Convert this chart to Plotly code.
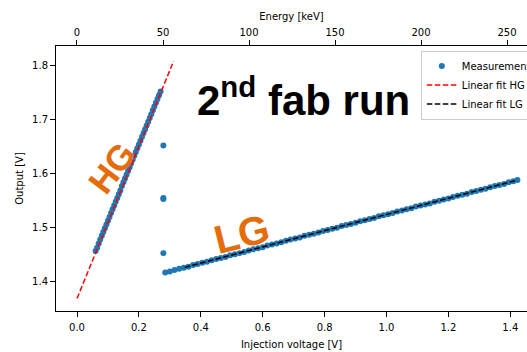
import plotly.graph_objects as go

# ---- data ----
hg_v = [0.060, 0.065, 0.070, 0.075, 0.080, 0.085, 0.090, 0.095, 0.100, 0.105,
        0.110, 0.115, 0.120, 0.125, 0.130, 0.135, 0.140, 0.145, 0.150, 0.155,
        0.160, 0.165, 0.170, 0.175, 0.180, 0.185, 0.190, 0.195, 0.200, 0.205,
        0.210, 0.215, 0.220, 0.225, 0.230, 0.235, 0.240, 0.245, 0.250, 0.255,
        0.260, 0.265, 0.270]
hg_out = [1.457, 1.463, 1.471, 1.478, 1.485, 1.492, 1.499, 1.506, 1.513, 1.520,
          1.527, 1.534, 1.541, 1.548, 1.555, 1.562, 1.569, 1.577, 1.584, 1.591,
          1.598, 1.605, 1.612, 1.619, 1.626, 1.633, 1.640, 1.647, 1.654, 1.661,
          1.668, 1.675, 1.682, 1.689, 1.696, 1.703, 1.710, 1.717, 1.724, 1.731,
          1.738, 1.745, 1.752]
trans_v = [0.279, 0.279, 0.279, 0.279]
trans_out = [1.652, 1.555, 1.553, 1.453]
lg_v = [0.285, 0.300, 0.315, 0.330, 0.345, 0.360, 0.375, 0.390, 0.405, 0.420,
        0.435, 0.450, 0.465, 0.480, 0.495, 0.510, 0.525, 0.540, 0.555, 0.570,
        0.585, 0.600, 0.615, 0.630, 0.645, 0.660, 0.675, 0.690, 0.705, 0.720,
        0.735, 0.750, 0.765, 0.780, 0.795, 0.810, 0.825, 0.840, 0.855, 0.870,
        0.885, 0.900, 0.915, 0.930, 0.945, 0.960, 0.975, 0.990, 1.005, 1.020,
        1.035, 1.050, 1.065, 1.080, 1.095, 1.110, 1.125, 1.140, 1.155, 1.170,
        1.185, 1.200, 1.215, 1.230, 1.245, 1.260, 1.275, 1.290, 1.305, 1.320,
        1.335, 1.350, 1.365, 1.380, 1.395, 1.410, 1.423]
lg_out = [1.417, 1.419, 1.422, 1.424, 1.426, 1.428, 1.431, 1.433, 1.435, 1.437,
          1.440, 1.442, 1.444, 1.446, 1.449, 1.451, 1.453, 1.455, 1.458, 1.460,
          1.462, 1.464, 1.467, 1.469, 1.471, 1.473, 1.476, 1.478, 1.480, 1.482,
          1.485, 1.487, 1.489, 1.491, 1.494, 1.496, 1.498, 1.500, 1.503, 1.505,
          1.507, 1.509, 1.512, 1.514, 1.516, 1.518, 1.521, 1.523, 1.525, 1.527,
          1.530, 1.532, 1.534, 1.536, 1.539, 1.541, 1.543, 1.545, 1.548, 1.550,
          1.552, 1.554, 1.557, 1.559, 1.561, 1.563, 1.566, 1.568, 1.570, 1.572,
          1.575, 1.577, 1.579, 1.581, 1.584, 1.586, 1.588]
fit_hg_v = [0.0, 0.312]
fit_hg_out = [1.369, 1.808]
fit_lg_v = [0.348, 1.423]
fit_lg_out = [1.4267, 1.588]

x_ticks = [0.0, 0.2, 0.4, 0.6, 0.8, 1.0, 1.2, 1.4]
y_ticks = [1.4, 1.5, 1.6, 1.7, 1.8]
kev_ticks = [0, 50, 100, 150, 200, 250]

FONT = "DejaVu Sans"
BLUE = "#1f77b4"
ORANGE = "#E46C0A"

meas_v = hg_v + trans_v + lg_v
meas_out = hg_out + trans_out + lg_out

fig = go.Figure()
fig.add_trace(go.Scatter(x=meas_v, y=meas_out, mode="markers", name="Measurement",
                         marker=dict(color=BLUE, size=6, line=dict(width=0))))
fig.add_trace(go.Scatter(x=fit_hg_v, y=fit_hg_out, mode="lines", name="Linear fit HG",
                         line=dict(color="red", width=1.5, dash="5.5px,2.5px")))
fig.add_trace(go.Scatter(x=fit_lg_v, y=fit_lg_out, mode="lines", name="Linear fit LG",
                         line=dict(color="black", width=1.5, dash="5.5px,2.5px")))

axis_common = dict(showgrid=False, zeroline=False, showline=True, linecolor="black",
                   linewidth=1, ticks="outside", ticklen=5, tickwidth=1, tickcolor="black",
                   automargin=False,
                   tickfont=dict(family=FONT, size=10, color="black"))

fig.update_layout(
    width=527, height=352,
    margin=dict(l=56, r=0, t=46, b=41, autoexpand=False),
    paper_bgcolor="white", plot_bgcolor="white",
    font=dict(family=FONT, size=10, color="black"),
    xaxis=dict(range=[-0.0679, 1.454], tickvals=x_ticks, tickformat=".1f",
               ticklabelstandoff=2,
               title=dict(text="Injection voltage [V]", font=dict(family=FONT, size=10), standoff=8),
               **axis_common),
    xaxis2=dict(range=[-12.2, 261.6], overlaying="x", side="top", anchor="y",
                tickvals=kev_ticks,
                title=dict(text="Energy [keV]", font=dict(family=FONT, size=10), standoff=4),
                **axis_common),
    yaxis=dict(range=[1.346, 1.836], tickvals=y_ticks, tickformat=".1f",
               title=dict(text="Output [V]", font=dict(family=FONT, size=10), standoff=6),
               **axis_common),
    legend=dict(x=0.7746, y=0.983, xanchor="left", yanchor="top",
                bgcolor="rgba(255,255,255,0.8)", bordercolor="#cccccc", borderwidth=1,
                font=dict(family=FONT, size=10, color="black")),
    showlegend=True,
)

fig.add_annotation(x=0.733, y=1.741, xref="x", yref="y", showarrow=False,
                   text="<b>2<sup>nd</sup> fab run</b>",
                   font=dict(family="Liberation Sans", size=42, color="black"))
fig.add_annotation(x=0.112, y=1.612, xref="x", yref="y", showarrow=False,
                   text="<b>HG</b>", textangle=-53,
                   font=dict(family="Liberation Sans", size=35, color=ORANGE))
fig.add_annotation(x=0.532, y=1.488, xref="x", yref="y", showarrow=False,
                   text="<b>LG</b>", textangle=-14,
                   font=dict(family="Liberation Sans", size=40, color=ORANGE))

# invisible trace binding the top (energy) axis
fig.add_trace(go.Scatter(x=kev_ticks, y=[None] * len(kev_ticks), xaxis="x2", yaxis="y",
                         mode="markers", showlegend=False, hoverinfo="skip"))

fig.write_html("out.html", config={"displayModeBar": False},
               post_script="document.body.style.margin='0';document.body.style.overflow='hidden';")
